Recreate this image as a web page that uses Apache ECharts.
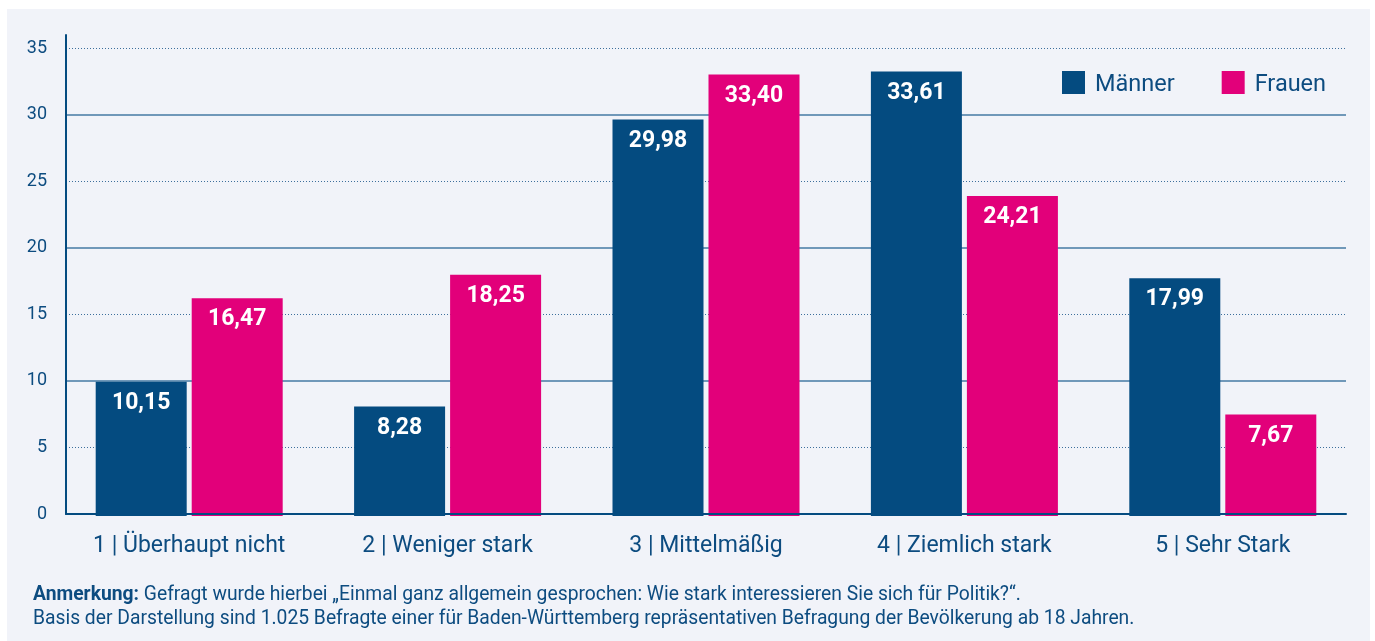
<!DOCTYPE html>
<html><head><meta charset="utf-8">
<script src="https://cdn.jsdelivr.net/npm/echarts@6/dist/echarts.min.js"></script>
<style>html,body{margin:0;padding:0;background:#fff;}#c{width:1375px;height:641px;}</style>
</head><body><div id="c"></div>
<script>
const categories = ['1 | Überhaupt nicht', '2 | Weniger stark', '3 | Mittelmäßig', '4 | Ziemlich stark', '5 | Sehr Stark'];
const maenner = [10.15, 8.28, 29.98, 33.61, 17.99];
const frauen = [16.47, 18.25, 33.40, 24.21, 7.67];
const solidGrid = [10, 20, 30];
const dottedGrid = [5, 15, 25, 35];
const noteBold = 'Anmerkung:';
const noteLine1 = ' Gefragt wurde hierbei „Einmal ganz allgemein gesprochen: Wie stark interessieren Sie sich für Politik?“.';
const noteLine2 = 'Basis der Darstellung sind 1.025 Befragte einer für Baden-Württemberg repräsentativen Befragung der Bevölkerung ab 18 Jahren.';

const dark = '#044b80';
const pink = '#e2007a';
const textCol = '#0d4c80';
const fmt = v => v.toFixed(2).replace('.', ',');

const chart = echarts.init(document.getElementById('c'));
const labelCfg = {
  show: true, position: 'insideTop', distance: 10, color: '#fff',
  fontFamily: 'Roboto', fontWeight: 'bold', fontSize: 23,
  formatter: p => fmt(p.value)
};
chart.setOption({
  animation: false,
  textStyle: {fontFamily: 'Roboto'},
  graphic: [{type: 'rect', z: -10, shape: {x: 7, y: 9, width: 1363, height: 632}, style: {fill: '#f1f3f9'}}],
  title: {
    left: 28, top: 578,
    text: '{b|' + noteBold + '}{r|' + noteLine1 + '}\n{r|' + noteLine2 + '}',
    textStyle: {
      fontWeight: 'normal',
      rich: {
        b: {fontFamily: 'Roboto', fontWeight: 'bold', fontSize: 19.3, color: textCol, lineHeight: 24},
        r: {fontFamily: 'Roboto', fontWeight: 'normal', fontSize: 19.3, color: textCol, lineHeight: 24}
      }
    }
  },
  legend: {
    left: 1057, top: 66, itemWidth: 23, itemHeight: 23, itemGap: 47, icon: 'rect',
    formatter: name => '{t|' + name + '}',
    textStyle: {
      fontFamily: 'Roboto', fontSize: 23.5, color: textCol,
      rich: {t: {fontFamily: 'Roboto', fontSize: 23.5, color: textCol, padding: [6, 0, 0, 5]}}
    },
    data: ['Männer', 'Frauen']
  },
  grid: [
    {left: 60, right: 23, top: 40, bottom: 125, containLabel: false},
    {left: 66, right: 29, top: 35, bottom: 127, containLabel: false}
  ],
  xAxis: [
    {
      type: 'category', data: categories, gridIndex: 0,
      axisLine: {show: false}, axisTick: {show: false},
      axisLabel: {color: textCol, fontFamily: 'Roboto', fontSize: 23, margin: 19}
    },
    {
      type: 'value', gridIndex: 1, min: 0, max: 1, z: 5,
      axisLine: {show: true, onZero: false, lineStyle: {color: dark, width: 2}},
      axisTick: {show: false}, axisLabel: {show: false}, splitLine: {show: false}
    }
  ],
  yAxis: [
    {
      type: 'value', gridIndex: 0, min: 0, max: 36, show: false, splitLine: {show: false}
    },
    {
      type: 'value', gridIndex: 1, min: 0, max: 36, interval: 5, z: 5,
      axisLine: {show: true, lineStyle: {color: dark, width: 2}},
      axisTick: {show: false},
      splitLine: {show: false},
      axisLabel: {color: textCol, fontFamily: 'Roboto', fontSize: 18, margin: 19,
        formatter: v => (v % 5 === 0 ? String(v) : '')}
    }
  ],
  series: [
    {
      name: 'Männer', type: 'bar', data: maenner, barWidth: 91, barGap: '5.5%',
      xAxisIndex: 0, yAxisIndex: 0, z: 3,
      itemStyle: {color: dark}, label: labelCfg
    },
    {
      name: 'Frauen', type: 'bar', data: frauen, barWidth: 91,
      xAxisIndex: 0, yAxisIndex: 0, z: 3,
      itemStyle: {color: pink}, label: labelCfg
    },
    {
      name: 'gridSolid', type: 'scatter', data: [], xAxisIndex: 1, yAxisIndex: 1, z: 0,
      markLine: {
        silent: true, symbol: 'none', label: {show: false}, z: 0,
        lineStyle: {color: '#7098b9', width: 2, type: 'solid'},
        data: solidGrid.map(v => ({yAxis: v}))
      }
    },
    {
      name: 'gridDotted', type: 'scatter', data: [], xAxisIndex: 1, yAxisIndex: 1, z: 0,
      markLine: {
        silent: true, symbol: 'none', label: {show: false}, z: 0,
        lineStyle: {color: '#3d6f9c', width: 1, type: [1, 2]},
        data: dottedGrid.map(v => ({yAxis: v}))
      }
    }
  ]
});
</script></body></html>
